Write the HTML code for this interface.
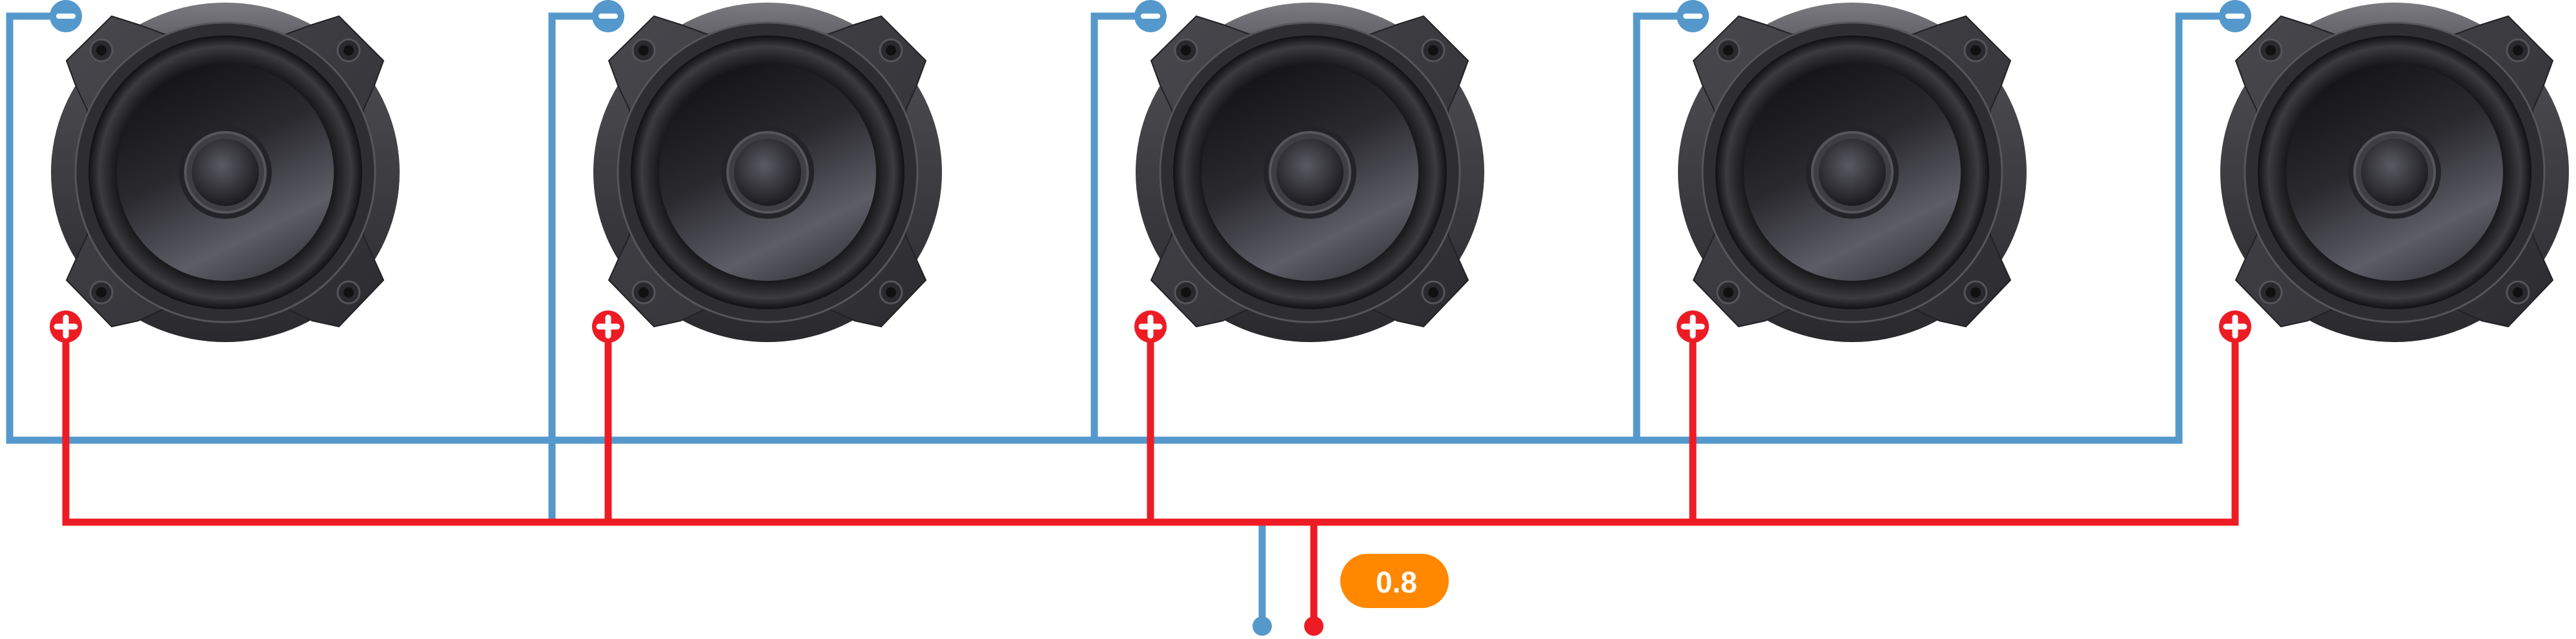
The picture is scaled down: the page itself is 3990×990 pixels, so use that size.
<!DOCTYPE html>
<html><head><meta charset="utf-8"><style>
html,body{margin:0;padding:0;background:#fff;}
svg{display:block}
</style></head><body>
<svg width="3990" height="990" viewBox="0 0 3990 990" xmlns="http://www.w3.org/2000/svg">
<defs>
<linearGradient id="oval" x1="0" y1="0" x2="0" y2="1">
<stop offset="0" stop-color="#7a7a80"/><stop offset="0.2" stop-color="#4a4a4f"/><stop offset="1" stop-color="#2a2a2d"/>
</linearGradient>
<linearGradient id="plate" x1="0" y1="0" x2="1" y2="1">
<stop offset="0" stop-color="#48484d"/><stop offset="0.5" stop-color="#3a3a3f"/><stop offset="1" stop-color="#2c2c30"/>
</linearGradient>
<radialGradient id="sur" cx="0.5" cy="0.5" r="0.5">
<stop offset="0.8" stop-color="#1a1a1d"/><stop offset="0.92" stop-color="#3b3b40"/><stop offset="1" stop-color="#111113"/>
</radialGradient>
<linearGradient id="cone" x1="0.2" y1="0" x2="0.7" y2="1">
<stop offset="0" stop-color="#121214"/><stop offset="0.45" stop-color="#2a2a2f"/><stop offset="0.8" stop-color="#5d5d66"/><stop offset="1" stop-color="#3a3a40"/>
</linearGradient>
<radialGradient id="cap" cx="0.45" cy="0.4" r="0.6">
<stop offset="0" stop-color="#5a5a62"/><stop offset="1" stop-color="#1c1c20"/>
</radialGradient>
<g id="spk">
<ellipse cx="349" cy="267" rx="270" ry="263" fill="url(#oval)"/>
<polygon points="103,94 173,25 214,38 255,53 443,53 484,38 525,25 594,94 580,132 563,170 563,365 580,403 594,434 525,506 484,497 443,478 255,478 214,497 173,506 103,434 117,403 135,365 135,170 117,132" fill="url(#plate)" stroke="#222225" stroke-width="2"/>
<circle cx="349" cy="267" r="232" fill="#2e2e32" stroke="#55555a" stroke-width="3"/>
<circle cx="349" cy="267" r="212" fill="url(#sur)"/>
<circle cx="349" cy="267" r="168" fill="url(#cone)"/>
<circle cx="349" cy="267" r="72" fill="#242428"/>
<circle cx="349" cy="267" r="62" fill="#3e3e44" stroke="#55555c" stroke-width="4"/>
<circle cx="349" cy="267" r="52" fill="url(#cap)"/>
<g fill="#2a2a2e" stroke="#555559" stroke-width="3">
<circle cx="157" cy="78" r="17"/><circle cx="540" cy="78" r="17"/>
<circle cx="157" cy="453" r="17"/><circle cx="540" cy="453" r="17"/>
</g>
<g fill="#111">
<circle cx="157" cy="78" r="8"/><circle cx="540" cy="78" r="8"/>
<circle cx="157" cy="453" r="8"/><circle cx="540" cy="453" r="8"/>
</g>
</g>
</defs>
<use href="#spk" x="0"/>
<use href="#spk" x="840"/>
<use href="#spk" x="1680"/>
<use href="#spk" x="2520"/>
<use href="#spk" x="3360"/>
<g fill="none" stroke="#5599cc" stroke-width="11" stroke-linejoin="miter">
<polyline points="102,25 15,25 15,682 3375,682 3375,25 3462,25"/>
<polyline points="942,25 855,25 855,809"/>
<polyline points="1782,25 1695,25 1695,682"/>
<polyline points="2622,25 2535,25 2535,682"/>
<line x1="1955" y1="809" x2="1955" y2="970"/>
</g>
<g fill="none" stroke="#ed1c24" stroke-width="11">
<polyline points="102,506 102,809 3462,809 3462,506"/>
<line x1="942" y1="506" x2="942" y2="809"/>
<line x1="1782" y1="506" x2="1782" y2="809"/>
<line x1="2622" y1="506" x2="2622" y2="809"/>
<line x1="2035" y1="809" x2="2035" y2="970"/>
</g>
<circle cx="1955" cy="970" r="15" fill="#5599cc"/>
<circle cx="2035" cy="970" r="15" fill="#ed1c24"/>
<g>
<circle cx="102" cy="25" r="25" fill="#5599cc"/><circle cx="942" cy="25" r="25" fill="#5599cc"/><circle cx="1782" cy="25" r="25" fill="#5599cc"/><circle cx="2622" cy="25" r="25" fill="#5599cc"/><circle cx="3462" cy="25" r="25" fill="#5599cc"/>
</g>
<g fill="#fff">
<rect x="87" y="21" width="30" height="8" rx="4"/><rect x="927" y="21" width="30" height="8" rx="4"/><rect x="1767" y="21" width="30" height="8" rx="4"/><rect x="2607" y="21" width="30" height="8" rx="4"/><rect x="3447" y="21" width="30" height="8" rx="4"/>
</g>
<g fill="#ed1c24">
<circle cx="102" cy="506" r="25"/><circle cx="942" cy="506" r="25"/><circle cx="1782" cy="506" r="25"/><circle cx="2622" cy="506" r="25"/><circle cx="3462" cy="506" r="25"/>
</g>
<g stroke="#fff" stroke-width="9" stroke-linecap="round">
<path d="M88,506H116M102,492V520"/><path d="M928,506H956M942,492V520"/><path d="M1768,506H1796M1782,492V520"/><path d="M2608,506H2636M2622,492V520"/><path d="M3448,506H3476M3462,492V520"/>
</g>
<rect x="2076" y="858" width="168" height="84" rx="42" fill="#ff8800"/>
<text x="2163" y="918" text-anchor="middle" font-family="Liberation Sans, sans-serif" font-weight="bold" font-size="46" fill="#fff">0.8</text>
</svg>
</body></html>
